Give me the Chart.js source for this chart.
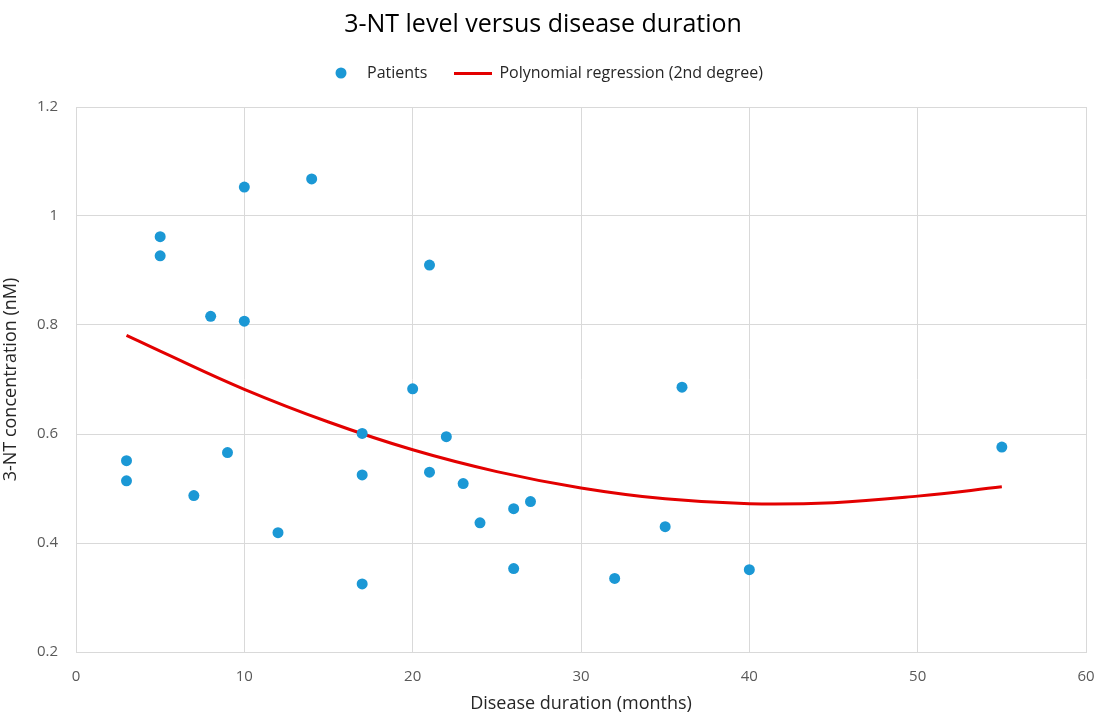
<!DOCTYPE html>
<html>
<head>
<meta charset="utf-8">
<script src="https://cdn.jsdelivr.net/npm/chart.js@4"></script>
<style>
  html, body { margin: 0; padding: 0; background: #fff; }
  #wrap { width: 1097px; height: 715px; }
</style>
</head>
<body>
<div id="wrap"><canvas id="NtChart" width="1097" height="715"></canvas></div>
<script>
// patients: disease duration (months) and 3-NT level (nM)
const months = [3, 3, 5, 5, 7, 8, 9, 10, 10, 12, 14, 17, 17, 17, 20, 21, 21, 22, 23, 24, 26, 26, 27, 32, 35, 36, 40, 55];
const ntLevel = [0.551, 0.514, 0.962, 0.927, 0.487, 0.816, 0.566, 1.053, 0.807, 0.419, 1.068, 0.601, 0.525, 0.325,
                 0.683, 0.910, 0.530, 0.595, 0.509, 0.437, 0.463, 0.353, 0.476, 0.335, 0.430, 0.686, 0.351, 0.576];

// regression curve
const fitMonths = [3, 5, 10, 15, 20, 25, 30, 35, 40, 45, 50, 55];
const fitValues = [0.781, 0.752, 0.682, 0.622, 0.571, 0.531, 0.501, 0.481, 0.472, 0.474, 0.486, 0.503];

const xTicks = [0, 10, 20, 30, 40, 50, 60];
const yTicks = [0.2, 0.4, 0.6, 0.8, 1, 1.2];

const blue = '#1b98d5';
const red = '#e30000';
const font = "'Open Sans', 'Noto Sans', sans-serif";

// small images for the legend markers
function legendDot() {
  const c = document.createElement('canvas');
  c.width = 12; c.height = 12;
  const g = c.getContext('2d');
  g.fillStyle = blue;
  g.beginPath(); g.arc(6, 6, 5.5, 0, Math.PI * 2); g.fill();
  return c;
}
function legendLine() {
  const c = document.createElement('canvas');
  c.width = 38; c.height = 3;
  const g = c.getContext('2d');
  g.fillStyle = red;
  g.fillRect(0, 0, 38, 3);
  return c;
}
const markers = [legendDot(), legendLine()];

// leave some room under the legend, like the original
const legendGap = {
  id: 'legendGap',
  beforeLayout(chart) {
    const lg = chart.legend;
    if (lg && !lg._gapDone) {
      const fit = lg.fit;
      lg.fit = function () { fit.call(this); this.height += 16; };
      lg._gapDone = true;
    }
  }
};

const ctx = document.getElementById('NtChart').getContext('2d');
const ntChart = new Chart(ctx, {
  type: 'scatter',
  data: {
    datasets: [{
      label: 'Patients',
      data: months.map((m, i) => ({x: m, y: ntLevel[i]})),
      backgroundColor: blue,
      borderColor: blue,
      pointRadius: 5.5,
      pointHoverRadius: 5.5,
      borderWidth: 0
    }, {
      label: 'Polynomial regression (2nd degree)',
      type: 'line',
      data: fitMonths.map((m, i) => ({x: m, y: fitValues[i]})),
      borderColor: red,
      backgroundColor: red,
      borderWidth: 3,
      pointRadius: 0,
      tension: 0.4,
      fill: false
    }]
  },
  plugins: [legendGap],
  options: {
    responsive: false,
    animation: false,
    layout: { padding: { left: 0, right: 11, top: 0, bottom: 0 } },
    plugins: {
      title: {
        display: true,
        text: '3-NT level versus disease duration',
        color: '#000',
        font: { family: font, size: 25, weight: 'normal', lineHeight: 1.0 },
        padding: { top: 12, bottom: 0 }
      },
      legend: {
        labels: {
          usePointStyle: true,
          pointStyleWidth: 36,
          padding: 28,
          color: '#262626',
          font: { family: font, size: 16 },
          generateLabels: chart => {
            const items = Chart.defaults.plugins.legend.labels.generateLabels(chart);
            items.forEach((it, i) => { it.pointStyle = markers[i]; it.lineWidth = 0; });
            return items;
          }
        }
      },
      tooltip: { enabled: false }
    },
    scales: {
      x: {
        type: 'linear',
        min: 0, max: 60,
        afterBuildTicks: axis => { axis.ticks = xTicks.map(v => ({value: v})); },
        afterFit: axis => { axis.height = 63; axis.paddingLeft = 0; axis.paddingRight = 0; },
        grid: { color: '#d9d9d9', drawTicks: false },
        border: { color: '#d9d9d9' },
        ticks: { color: '#595959', padding: 16, font: { family: font, size: 15 } },
        title: {
          display: true,
          text: 'Disease duration (months)',
          color: '#262626',
          padding: { top: 0, bottom: 0 },
          font: { family: font, size: 18 }
        }
      },
      y: {
        type: 'linear',
        min: 0.2, max: 1.2,
        afterBuildTicks: axis => { axis.ticks = yTicks.map(v => ({value: v})); },
        afterFit: axis => { axis.width = 76; },
        grid: { color: '#d9d9d9', drawTicks: false },
        border: { color: '#d9d9d9' },
        ticks: {
          color: '#595959', padding: 18,
          font: { family: font, size: 15 },
          callback: v => String(+v.toFixed(1))
        },
        title: {
          display: true,
          text: '3-NT concentration (nM)',
          color: '#262626',
          padding: { top: 0, bottom: 0 },
          font: { family: font, size: 18 }
        }
      }
    }
  }
});
</script>
</body>
</html>
